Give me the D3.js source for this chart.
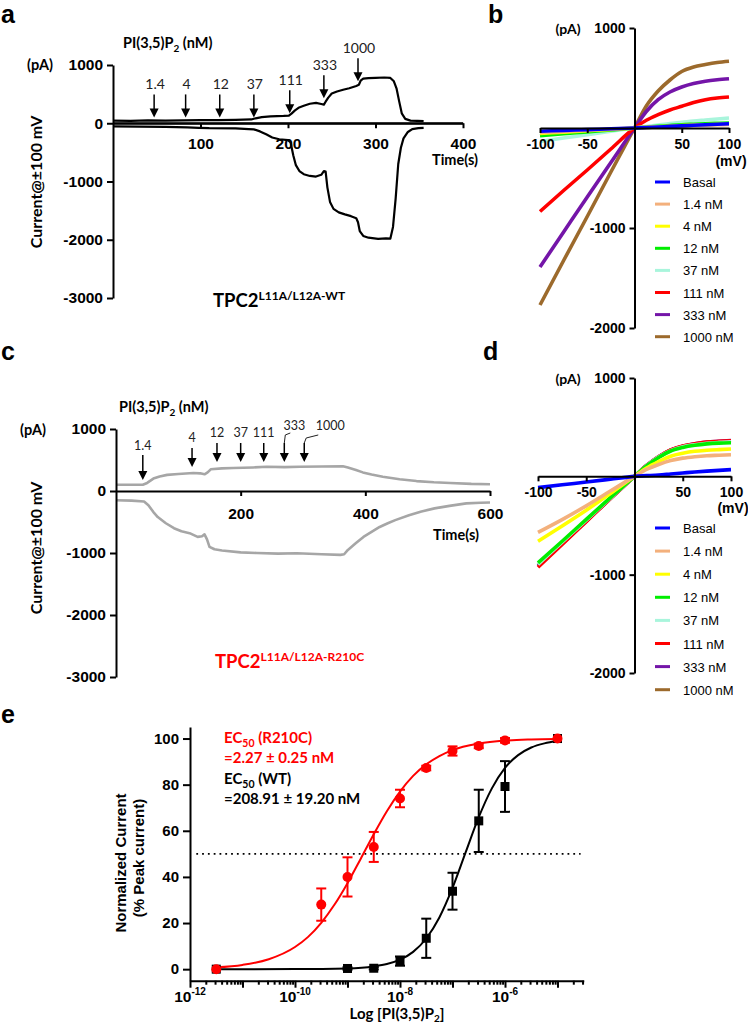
<!DOCTYPE html>
<html><head><meta charset="utf-8">
<script src="https://cdn.jsdelivr.net/npm/d3@7"></script>
<style>html,body{margin:0;padding:0;background:#fff;}svg{display:block;}</style>
</head><body>
<svg id="fig" width="748" height="1025" xmlns="http://www.w3.org/2000/svg"></svg>
<script>
// ================= DATA =================
// Panel a (WT time course)
const concLabels = ["1.4", "4", "12", "37", "111", "333", "1000"];
const arrowTimesA = [47, 83, 122, 161, 202, 241, 280];
const arrowTipsA = [100, 100, 100, 100, 170, 430, 720];
const timeTicksA = [100, 200, 300, 400];
const currentTicks = [-3000, -2000, -1000, 0, 1000];
const traceAOut = [[0,45],[20,42],[40,48],[60,45],[80,50],[100,52],[120,55],[140,58],[158,65],[163,85],[170,105],[180,118],[195,125],[201,130],[204,165],[208,220],[212,265],[218,300],[225,335],[232,350],[238,330],[241,320],[243,370],[246,440],[250,510],[256,545],[263,575],[270,600],[278,640],[281,660],[283,730],[286,765],[292,775],[300,780],[310,785],[317,778],[321,720],[324,600],[327,380],[330,170],[334,75],[340,45],[348,40],[355,35]];
const traceAIn = [[0,-55],[30,-58],[60,-62],[85,-70],[98,-78],[110,-85],[140,-88],[155,-100],[161,-105],[168,-140],[175,-190],[182,-245],[190,-275],[200,-290],[203,-330],[206,-550],[209,-720],[213,-820],[218,-875],[225,-905],[232,-915],[238,-885],[241,-820],[243,-830],[245,-1100],[248,-1350],[252,-1470],[258,-1530],[265,-1565],[272,-1595],[278,-1630],[280,-1700],[282,-1850],[286,-1935],[292,-1965],[303,-1985],[312,-1975],[317,-1980],[320,-1780],[323,-1300],[326,-700],[329,-420],[332,-260],[337,-150],[342,-100],[349,-85],[355,-80]];

// Panel c (R210C time course)
const arrowTimesC = [43, 122, 162, 200, 237, 270, 302];
const arrowTipsC = [177, 387, 468, 468, 468, 468, 468];
const timeTicksC = [200, 400, 600];
const traceCOut = [[0,100],[20,100],[43,100],[50,130],[60,200],[70,235],[82,260],[100,275],[124,290],[135,285],[142,270],[147,300],[152,350],[170,365],[188,370],[220,380],[242,390],[270,385],[295,390],[330,395],[364,400],[372,380],[385,340],[396,300],[410,265],[428,230],[455,190],[482,160],[510,140],[536,130],[570,115],[600,110]];
const traceCIn = [[0,-150],[25,-155],[45,-170],[52,-230],[60,-340],[67,-420],[80,-520],[93,-600],[105,-650],[118,-680],[131,-740],[138,-730],[142,-700],[146,-780],[150,-900],[158,-940],[170,-960],[200,-990],[226,-1000],[260,-1010],[290,-1005],[330,-1020],[360,-1030],[366,-1020],[372,-950],[385,-840],[397,-740],[410,-660],[423,-580],[436,-520],[448,-470],[470,-390],[490,-330],[511,-280],[535,-240],[562,-200],[585,-190],[600,-185]];

// Panels b and d (I-V curves)
const ivLegend = ["Basal", "1.4 nM", "4 nM", "12 nM", "37 nM", "111 nM", "333 nM", "1000 nM"];
const ivColors = ["#0000ff", "#f3b07c", "#ffff00", "#00ee00", "#a9f5dc", "#ff0000", "#7415a8", "#9c6a2c"];
const ivVolts = [-100, -75, -50, -25, 0, 12.5, 25, 37.5, 50, 62.5, 75, 87.5, 100];
const mvTicks = [-100, -50, 50, 100];
const paTicks = [-2000, -1000, 1000];
const ivB_basal = [-32,-24,-16,-8,0,5,10,16,21,27,32,37,42];
const ivB_1p4 = [-45,-34,-22,-11,0,5,10,15,20,25,29,32,35];
const ivB_4 = [-55,-41,-27,-14,0,6,12,18,24,29,33,37,40];
const ivB_12 = [-78,-58,-39,-20,0,8,16,25,33,38,43,47,50];
const ivB_37 = [-135,-100,-67,-33,0,15,30,45,57,70,80,90,100];
const ivB_111 = [-835,-625,-420,-210,0,77,133,180,217,255,283,300,310];
const ivB_333 = [-1390,-1040,-690,-345,0,165,283,360,410,445,467,482,493];
const ivB_1000 = [-1770,-1325,-885,-440,0,220,370,480,565,610,635,655,667];
const ivD_basal = [-115,-86,-58,-29,0,7,14,24,34,44,53,61,68];
const ivD_1p4 = [-570,-440,-300,-150,0,70,120,160,185,200,210,215,220];
const ivD_4 = [-660,-505,-345,-175,0,85,150,205,235,255,265,272,278];
const ivD_12 = [-880,-660,-438,-217,0,106,192,258,294,316,330,338,342];
const ivD_37 = [-895,-670,-445,-221,0,108,196,262,300,322,337,345,350];
const ivD_111 = [-925,-692,-460,-228,0,111,200,268,308,332,348,356,362];
const ivD_333 = [-915,-685,-455,-225,0,110,199,267,307,331,348,357,365];
const ivD_1000 = [-905,-678,-451,-224,0,109,198,265,304,327,342,350,355];

// Panel e (dose response)
const doseLog = [-11.5, -9.5, -9, -8.5, -8, -7.5, -7, -6.5, -6, -5];
const r210cMean = [0, 28, 40, 53, 74, 87.2, 94.6, 96.8, 99.2, 100];
const r210cSem = [0, 7, 8.5, 6.5, 3.8, 1, 2, 1, 1, 0];
const wtLog = [-11.5, -9, -8.5, -8, -7.5, -7, -6.5, -6, -5];
const wtMean = [0, 0.3, 0.4, 3.5, 13.4, 33.8, 64.3, 79.2, 100];
const wtSem = [0, 0.5, 0.5, 2, 8.5, 8, 13.5, 11, 0];
const fitLogR = [-11.5,-11,-10.5,-10,-9.75,-9.5,-9.25,-9,-8.75,-8.5,-8.25,-8,-7.75,-7.5,-7.25,-7,-6.5,-6,-5.5,-5];
const fitR210C = [0.8,1.85,4.3,9.6,14.0,20.1,27.9,37.3,47.8,58.5,68.5,77.0,83.8,88.8,92.4,95.0,97.8,99.1,99.6,99.8];
const fitLogW = [-11.5,-10,-9,-8.5,-8.25,-8,-7.75,-7.5,-7.25,-7,-6.75,-6.5,-6.25,-6,-5.75,-5.5,-5.25,-5];
const fitWT = [0,0.03,0.34,1.2,2.2,4.1,7.5,13.3,22.4,35.2,50.6,65.9,78.4,87.3,92.8,96.1,97.9,98.9];
const normTicks = [0, 20, 40, 60, 80, 100];
const decadeLabels = [-12, -10, -8, -6];

// ================= DRAWING =================
const svg = d3.select("#fig");
const TICKF = "'Liberation Sans', Arial, Helvetica, sans-serif";
const LABF = "Lato, 'Open Sans', 'Liberation Sans', sans-serif";
const plain = d => String(d);

function txt(x, y, s, o = {}) {
  return svg.append("text").attr("x", x).attr("y", y).text(s)
    .attr("font-family", o.ff || LABF).attr("font-size", o.fs || 14)
    .attr("font-weight", o.fw || "bold").attr("fill", o.fill || "#000")
    .attr("text-anchor", o.anchor || "start");
}
function styleAxis(g, fs) {
  g.selectAll("path.domain").attr("stroke", "#000").attr("stroke-width", 2);
  g.selectAll(".tick line").attr("stroke", "#000").attr("stroke-width", 2);
  g.selectAll(".tick text").attr("font-family", TICKF).attr("font-weight", "bold")
    .attr("font-size", fs).attr("fill", "#000");
}
function arrow(x, yTop, yTip, w, h) {
  svg.append("line").attr("x1", x).attr("x2", x).attr("y1", yTop).attr("y2", yTip - h + 1)
    .attr("stroke", "#000").attr("stroke-width", 1.5);
  svg.append("path").attr("d", `M${x - w / 2},${yTip - h}L${x + w / 2},${yTip - h}L${x},${yTip}Z`).attr("fill", "#000");
}
function panelLetter(x, y, s) { txt(x, y, s, { ff: TICKF, fs: 25 }); }

// ---------- Panel a ----------
const xA = d3.scaleLinear().domain([0, 400]).range([113, 463]);
const yA = d3.scaleLinear().domain([-3000, 1000]).range([298, 65]);
const lineA = d3.line().x(d => xA(d[0])).y(d => yA(d[1]));
styleAxis(svg.append("g").attr("transform", `translate(0,${yA(0)})`)
  .call(d3.axisBottom(xA).tickValues(timeTicksA).tickFormat(plain).tickSize(5).tickSizeOuter(0).tickPadding(10)), 15.5);
[traceAOut, traceAIn].forEach(tr => svg.append("path").datum(tr).attr("d", lineA)
  .attr("fill", "none").attr("stroke", "#000").attr("stroke-width", 2.2).attr("stroke-linejoin", "round"));
svg.append("line").attr("x1", xA(0)).attr("x2", xA(400)).attr("y1", yA(0)).attr("y2", yA(0)).attr("stroke", "#000").attr("stroke-width", 2);
styleAxis(svg.append("g").attr("transform", `translate(${xA(0)},0)`)
  .call(d3.axisLeft(yA).tickValues(currentTicks).tickFormat(plain).tickSize(6).tickSizeOuter(0).tickPadding(4)), 15.5);
panelLetter(1, 23, "a");
{
  const t = txt(123, 48, "PI(3,5)P", { fs: 14.5 });
  t.append("tspan").attr("dy", 4).attr("font-size", 10).text("2");
  t.append("tspan").attr("dy", -4).text(" (nM)");
}
txt(27, 70, "(pA)", { fs: 14.5 });
txt(455, 165, "Time(s)", { fs: 14.5, anchor: "middle" });
txt(0, 0, "Current@±100 mV", { fs: 16, anchor: "middle" }).attr("transform", "translate(42,182) rotate(-90)");
{
  const t = txt(213, 307, "TPC2", { fs: 18.5 });
  t.append("tspan").attr("dy", -7).attr("font-size", 12).text("L11A/L12A-WT");
}
arrowTimesA.forEach((tm, i) => {
  const x = xA(tm), tip = yA(arrowTipsA[i]), top = tip - 23;
  arrow(x, top, tip, 9, 9);
  txt(x + 1, top - 5, concLabels[i], { fs: 14, fw: "normal", fill: "#222", anchor: "middle" });
});

// ---------- Panel c ----------
const xC = d3.scaleLinear().domain([0, 600]).range([116, 490]);
const yC = d3.scaleLinear().domain([-3000, 1000]).range([677, 429]);
const lineC = d3.line().x(d => xC(d[0])).y(d => yC(d[1]));
[traceCOut, traceCIn].forEach(tr => svg.append("path").datum(tr).attr("d", lineC)
  .attr("fill", "none").attr("stroke", "#a6a6a6").attr("stroke-width", 2.6).attr("stroke-linejoin", "round"));
styleAxis(svg.append("g").attr("transform", `translate(0,${yC(0)})`)
  .call(d3.axisBottom(xC).tickValues(timeTicksC).tickFormat(plain).tickSize(5).tickSizeOuter(0).tickPadding(12)), 15.5);
styleAxis(svg.append("g").attr("transform", `translate(${xC(0)},0)`)
  .call(d3.axisLeft(yC).tickValues(currentTicks).tickFormat(plain).tickSize(6).tickSizeOuter(0).tickPadding(4)), 15.5);
panelLetter(1, 360, "c");
{
  const t = txt(119, 412, "PI(3,5)P", { fs: 14.5 });
  t.append("tspan").attr("dy", 4).attr("font-size", 10).text("2");
  t.append("tspan").attr("dy", -4).text(" (nM)");
}
txt(20, 435, "(pA)", { fs: 14.5 });
txt(456, 540, "Time(s)", { fs: 14.5, anchor: "middle" });
txt(0, 0, "Current@±100 mV", { fs: 16, anchor: "middle" }).attr("transform", "translate(42,548) rotate(-90)");
{
  const t = txt(215, 668, "TPC2", { fs: 18.5, fill: "#ff0000" });
  t.append("tspan").attr("dy", -7).attr("font-size", 12).text("L11A/L12A-R210C");
}
arrowTimesC.forEach((tm, i) => {
  const x = xC(tm), tip = yC(arrowTipsC[i]);
  const top = i === 0 ? tip - 25 : tip - 19;
  arrow(x, top, tip, 9, 9);
  if (i === 0) txt(x, top - 5, concLabels[i], { fs: 12.5, fw: "normal", fill: "#222", anchor: "middle" });
  else if (i < 5) txt(x, top - 6, concLabels[i], { fs: 12.5, fw: "normal", fill: "#222", anchor: "middle" });
  else {
    const off = i === 5 ? 10 : 26;
    svg.append("path").attr("d", i === 5
      ? `M${x},${top}L${x + 1},${top - 8}L${x + 6},${top - 10}`
      : `M${x},${top}L${x + 2},${top - 5}L${x + 14},${top - 8}`)
      .attr("fill", "none").attr("stroke", "#222").attr("stroke-width", 1);
    txt(x + off, top - 13, concLabels[i], { fs: 12.5, fw: "normal", fill: "#222", anchor: "middle" });
  }
});

// ---------- Panels b & d (I-V) ----------
function ivPanel(series, xr, yr, legendY0, legendStep, mvLabelY) {
  const x = d3.scaleLinear().domain([-100, 100]).range(xr);
  const y = d3.scaleLinear().domain([-2000, 1000]).range(yr);
  const ln = d3.line().x((d, i) => x(ivVolts[i])).y(d => y(d)).curve(d3.curveMonotoneX);
  for (let k = series.length - 1; k >= 0; k--) {
    svg.append("path").datum(series[k]).attr("d", ln).attr("fill", "none")
      .attr("stroke", ivColors[k]).attr("stroke-width", 3.6).attr("stroke-linejoin", "round");
  }
  styleAxis(svg.append("g").attr("transform", `translate(0,${y(0)})`)
    .call(d3.axisBottom(x).tickValues(mvTicks).tickFormat(plain).tickSize(5).tickSizeOuter(0).tickPadding(6)), 14);
  styleAxis(svg.append("g").attr("transform", `translate(${x(0)},0)`)
    .call(d3.axisLeft(y).tickValues(paTicks).tickFormat(plain).tickSize(5).tickSizeOuter(0).tickPadding(4)), 14);
  txt(x(0) - 79, y(1000) + 6, "(pA)", { fs: 14 });
  txt(x(100) + 2, mvLabelY, "(mV)", { ff: TICKF, fs: 14, anchor: "middle" });
  ivLegend.forEach((lab, i) => {
    const ly = legendY0 + i * legendStep;
    svg.append("line").attr("x1", 655).attr("x2", 670).attr("y1", ly).attr("y2", ly)
      .attr("stroke", ivColors[i]).attr("stroke-width", 3);
    txt(683, ly + 5, lab, { ff: TICKF, fs: 13, fw: "normal" });
  });
}
ivPanel([ivB_basal, ivB_1p4, ivB_4, ivB_12, ivB_37, ivB_111, ivB_333, ivB_1000], [540, 729], [328, 28], 182, 22.1, 166);
panelLetter(488, 23, "b");
ivPanel([ivD_basal, ivD_1p4, ivD_4, ivD_12, ivD_37, ivD_111, ivD_333, ivD_1000], [538, 731], [673, 378], 528, 23.1, 513);
panelLetter(483, 360, "d");

// ---------- Panel e ----------
const xE = d3.scaleLinear().domain([-12, -4.5]).range([190, 583.75]);
const yE = d3.scaleLinear().domain([-5, 105]).range([980.7, 727]);
panelLetter(1, 723, "e");
svg.append("line").attr("x1", xE(-11.88)).attr("x2", xE(-4.56)).attr("y1", yE(50)).attr("y2", yE(50))
  .attr("stroke", "#000").attr("stroke-width", 1.8).attr("stroke-dasharray", "1.8,4");
const lnE = (xs) => d3.line().x((d, i) => xE(xs[i])).y(d => yE(d)).curve(d3.curveMonotoneX);
svg.append("path").datum(fitWT).attr("d", lnE(fitLogW)).attr("fill", "none").attr("stroke", "#000").attr("stroke-width", 2);
svg.append("path").datum(fitR210C).attr("d", lnE(fitLogR)).attr("fill", "none").attr("stroke", "#ff0000").attr("stroke-width", 2);
function errBars(xs, m, s, col) {
  xs.forEach((lx, i) => {
    if (s[i] <= 0) return;
    const x = xE(lx), y1 = yE(m[i] + s[i]), y2 = yE(m[i] - s[i]);
    svg.append("line").attr("x1", x).attr("x2", x).attr("y1", y1).attr("y2", y2).attr("stroke", col).attr("stroke-width", 2);
    [y1, y2].forEach(yy => svg.append("line").attr("x1", x - 5).attr("x2", x + 5).attr("y1", yy).attr("y2", yy).attr("stroke", col).attr("stroke-width", 2));
  });
}
errBars(wtLog, wtMean, wtSem, "#000");
wtLog.forEach((lx, i) => svg.append("rect").attr("x", xE(lx) - 4.5).attr("y", yE(wtMean[i]) - 4.5)
  .attr("width", 9).attr("height", 9).attr("fill", "#000"));
errBars(doseLog, r210cMean, r210cSem, "#ff0000");
doseLog.forEach((lx, i) => svg.append("circle").attr("cx", xE(lx)).attr("cy", yE(r210cMean[i])).attr("r", 5).attr("fill", "#ff0000"));

styleAxis(svg.append("g").attr("transform", `translate(${xE(-12)},0)`)
  .call(d3.axisLeft(yE).tickValues(normTicks).tickFormat(plain).tickSize(7).tickSizeOuter(0).tickPadding(4)), 15);
const majors = d3.range(-12, -4, 1);
const minors = [];
majors.forEach(d => { for (let k = 2; k <= 9; k++) { const v = d + Math.log10(k); if (v <= -4.5) minors.push(v); } });
const gx = svg.append("g").attr("transform", `translate(0,${yE(-5)})`)
  .call(d3.axisBottom(xE).tickValues(majors).tickSize(7).tickSizeOuter(0).tickFormat(""));
styleAxis(gx, 15);
const gm = svg.append("g").attr("transform", `translate(0,${yE(-5)})`)
  .call(d3.axisBottom(xE).tickValues(minors).tickSize(4).tickSizeOuter(0).tickFormat(""));
styleAxis(gm, 15);
gm.select("path.domain").remove();
decadeLabels.forEach(d => {
  const t = txt(xE(d), yE(-5) + 21, "10", { ff: TICKF, fs: 15.5, anchor: "middle" });
  t.append("tspan").attr("dy", -7).attr("font-size", 10).text(String(d));
});
{
  const t = txt(397, 1019, "Log [PI(3,5)P", { fs: 15, anchor: "middle" });
  t.append("tspan").attr("dy", 3).attr("font-size", 10).text("2");
  t.append("tspan").attr("dy", -3).text("]");
}
txt(0, 0, "Normalized Current", { ff: TICKF, fs: 15, anchor: "middle" }).attr("transform", "translate(126,863) rotate(-90)");
txt(0, 0, "(% Peak current)", { ff: TICKF, fs: 15, anchor: "middle" }).attr("transform", "translate(144,858) rotate(-90)");
function ecText(y, pre, sub, post, col) {
  const t = txt(224, y, pre, { fs: 15, fill: col });
  if (sub) { t.append("tspan").attr("dy", 4).attr("font-size", 10.5).text(sub); t.append("tspan").attr("dy", -4).text(post); }
}
ecText(743, "EC", "50", " (R210C)", "#ff0000");
ecText(763, "=2.27 ± 0.25 nM", null, null, "#ff0000");
ecText(784, "EC", "50", " (WT)", "#000");
ecText(804, "=208.91 ± 19.20 nM", null, null, "#000");
</script>
</body></html>
